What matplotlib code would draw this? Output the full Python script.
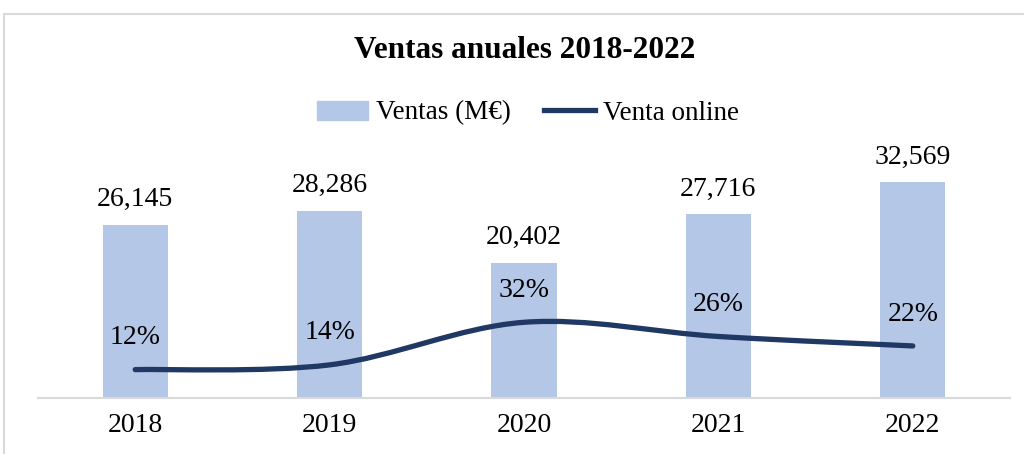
import numpy as np
import matplotlib
matplotlib.use("Agg")
import matplotlib.pyplot as plt
from matplotlib.path import Path
from matplotlib.patches import PathPatch, Rectangle
from matplotlib.lines import Line2D

plt.rcParams['font.family'] = ['Liberation Serif', 'DejaVu Serif']

years = ['2018', '2019', '2020', '2021', '2022']
ventas = [26145, 28286, 20402, 27716, 32569]
online = [0.12, 0.14, 0.32, 0.26, 0.22]

bar_color = '#b4c7e7'
line_color = '#203864'
grey = '#d9d9d9'


def smooth_path(xs, ys):
    # curva suavizada tipo Excel (Catmull-Rom -> Bezier)
    pts = np.column_stack([xs, ys]).astype(float)
    n = len(pts)
    verts = [pts[0]]
    codes = [Path.MOVETO]
    for i in range(n - 1):
        p0 = pts[max(i - 1, 0)]
        p1 = pts[i]
        p2 = pts[i + 1]
        p3 = pts[min(i + 2, n - 1)]
        c1 = p1 + (p2 - p0) / 6.0
        c2 = p2 - (p3 - p1) / 6.0
        verts += [c1, c2, p2]
        codes += [Path.CURVE4] * 3
    return Path(verts, codes)


fig = plt.figure(figsize=(10.24, 4.54), dpi=100)
fig.patches.append(Rectangle((4 / 1024, -0.2), 2, 1 - 14 / 454 + 0.2,
                             transform=fig.transFigure, fill=False,
                             edgecolor=grey, linewidth=1.5))

ax = fig.add_axes([38 / 1024, 1 - 398 / 454, 972 / 1024, 265 / 454])
x = np.arange(len(years))
ax.bar(x, ventas, width=0.335, color=bar_color, zorder=1)
ax.set_xlim(-0.5, len(years) - 0.5)
ax.set_ylim(0, 40000)
ax.set_yticks([])
for s in ['top', 'right', 'left']:
    ax.spines[s].set_visible(False)
ax.spines['bottom'].set_color(grey)
ax.spines['bottom'].set_linewidth(1.5)
ax.set_xticks(x)
ax.set_xticklabels(years, fontsize=20)
ax.tick_params(axis='x', length=0, pad=11)

for xi, v in zip(x, ventas):
    ax.annotate(f'{v:,}', (xi, v), xytext=(0, 18), textcoords='offset points',
                ha='center', va='center', fontsize=20)

ax2 = ax.twinx()
ax2.set_ylim(0, 1.12)
ax2.set_yticks([])
for s in ax2.spines.values():
    s.set_visible(False)
ax2.add_patch(PathPatch(smooth_path(x, online), fill=False, edgecolor=line_color,
                        linewidth=3.8, capstyle='round', zorder=3))
for xi, v in zip(x, online):
    ax2.annotate(f'{v:.0%}', (xi, v), xytext=(0, 23), textcoords='offset points',
                 ha='center', va='center', fontsize=20)

fig.text(525 / 1024, 1 - 51 / 454, 'Ventas anuales 2018-2022', ha='center',
         va='center', fontsize=22.5, fontweight='bold')

handles = [Rectangle((0, 0), 1, 1, color=bar_color),
           Line2D([0], [0], color=line_color, linewidth=3.8)]
fig.legend(handles, ['Ventas (M€)', 'Venta online'], loc='center',
           bbox_to_anchor=(528 / 1024, 1 - 113 / 454), ncol=2, frameon=False,
           fontsize=19.5, handlelength=1.9, handletextpad=0.3, columnspacing=1.2)

fig.savefig('out.png', dpi=100)
